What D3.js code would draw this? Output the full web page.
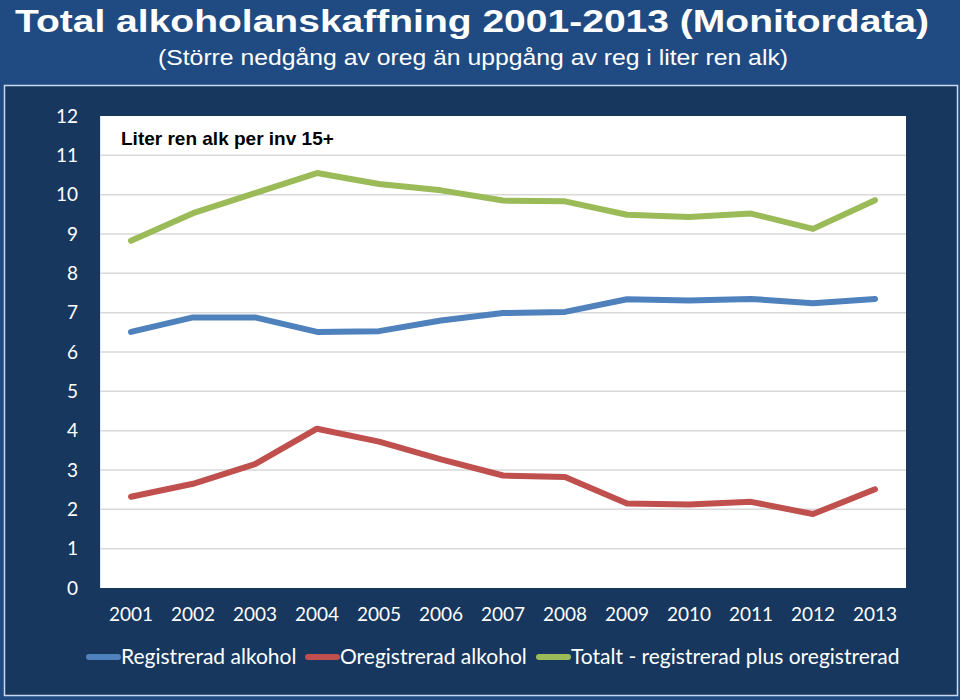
<!DOCTYPE html>
<html><head><meta charset="utf-8">
<script src="https://cdn.jsdelivr.net/npm/d3@7/dist/d3.min.js"></script>
<style>html,body{margin:0;padding:0;background:#1f4b82;}svg{display:block;}</style>
</head><body>
<script>
const years = ["2001","2002","2003","2004","2005","2006","2007","2008","2009","2010","2011","2012","2013"];
const registrerad = [6.51,6.88,6.88,6.51,6.53,6.80,6.99,7.02,7.34,7.31,7.35,7.24,7.35];
const oregistrerad = [2.32,2.65,3.15,4.05,3.72,3.27,2.86,2.82,2.15,2.12,2.19,1.88,2.51];
const totalt = [8.83,9.53,10.04,10.55,10.27,10.11,9.85,9.83,9.49,9.43,9.52,9.13,9.86];
const yTicks = [0,1,2,3,4,5,6,7,8,9,10,11,12];
const seriesNames = ["Registrerad alkohol","Oregistrerad alkohol","Totalt - registrerad plus oregistrerad"];
const seriesColors = ["#4f81bd","#c0504d","#9bbb59"];

const W = 960, H = 700;
const svg = d3.select("body").append("svg").attr("width", W).attr("height", H);
svg.append("rect").attr("width", W).attr("height", H).attr("fill", "#1f4b82");

// titles
function fitText(sel, len){ sel.attr("textLength", len).attr("lengthAdjust","spacingAndGlyphs"); }
svg.append("text").attr("x", 472).attr("y", 32).attr("text-anchor","middle")
  .attr("font-family","'Liberation Sans Narrow','Liberation Sans',Arial,sans-serif").attr("font-weight","bold")
  .attr("font-size", 32).attr("fill","#ffffff").text("Total alkoholanskaffning 2001-2013 (Monitordata)")
  .call(fitText, 914);
svg.append("text").attr("x", 473).attr("y", 65).attr("text-anchor","middle")
  .attr("font-family","'Liberation Sans Narrow','Liberation Sans',Arial,sans-serif")
  .attr("font-size", 22).attr("fill","#ffffff").text("(Större nedgång av oreg än uppgång av reg i liter ren alk)")
  .call(fitText, 630);

// inner panel
svg.append("rect").attr("x", 4.5).attr("y", 85.5).attr("width", 953).attr("height", 610)
  .attr("fill", "#17375e").attr("stroke", "#c6d9f1").attr("stroke-width", 1.5);

const plot = {left:100, right:906, top:116, bottom:588};
const x = d3.scaleBand().domain(years).range([plot.left, plot.right]);
const y = d3.scaleLinear().domain([0,12]).range([plot.bottom, plot.top]);

svg.append("rect").attr("x", plot.left).attr("y", plot.top)
  .attr("width", plot.right-plot.left).attr("height", plot.bottom-plot.top).attr("fill","#ffffff");
svg.append("line").attr("x1", plot.left+0.5).attr("x2", plot.left+0.5).attr("y1", plot.top).attr("y2", plot.bottom)
  .attr("stroke","#dce9f7").attr("stroke-width",1);

// gridlines
svg.append("g").selectAll("line").data(yTicks.filter(d => d>0 && d<12)).join("line")
  .attr("x1", plot.left).attr("x2", plot.right)
  .attr("y1", d => y(d)).attr("y2", d => y(d))
  .attr("stroke", "#d9d9d9").attr("stroke-width", 1.5);

// axes
const fontAx = "Lato,'Open Sans',sans-serif";
const yAxis = svg.append("g").attr("transform", `translate(${plot.left},0)`)
  .call(d3.axisLeft(y).tickValues(yTicks).tickSize(0).tickPadding(22).tickFormat(d3.format("d")));
yAxis.select(".domain").remove();
yAxis.selectAll("text").attr("font-family", fontAx).attr("font-size", 19).attr("fill","#ffffff");

const xAxis = svg.append("g").attr("transform", `translate(0,${plot.bottom})`)
  .call(d3.axisBottom(x).tickSize(0).tickPadding(20));
xAxis.select(".domain").remove();
xAxis.selectAll("text").attr("font-family", fontAx).attr("font-size", 19).attr("fill","#ffffff");

// chart title
svg.append("text").attr("x", 121).attr("y", 145)
  .attr("font-family","'Liberation Sans',Arial,sans-serif").attr("font-weight","bold")
  .attr("font-size", 19).attr("fill","#000000").text("Liter ren alk per inv 15+");

// lines
const allSeries = [registrerad, oregistrerad, totalt];
const line = d3.line().x((d,i) => x(years[i]) + x.bandwidth()/2).y(d => y(d));
svg.append("g").selectAll("path").data(allSeries).join("path")
  .attr("d", d => line(d)).attr("fill","none")
  .attr("stroke", (d,i) => seriesColors[i]).attr("stroke-width", 6)
  .attr("stroke-linecap","round").attr("stroke-linejoin","round");

// legend
const legendX = [89, 308, 539];
const lg = svg.append("g");
seriesNames.forEach((name,i) => {
  lg.append("line").attr("x1", legendX[i]).attr("x2", legendX[i]+29).attr("y1", 657).attr("y2", 657)
    .attr("stroke", seriesColors[i]).attr("stroke-width", 6).attr("stroke-linecap","round");
  lg.append("text").attr("x", legendX[i]+32).attr("y", 664)
    .attr("font-family", fontAx).attr("font-size", 21).attr("fill","#ffffff").text(name);
});
</script>
</body></html>
